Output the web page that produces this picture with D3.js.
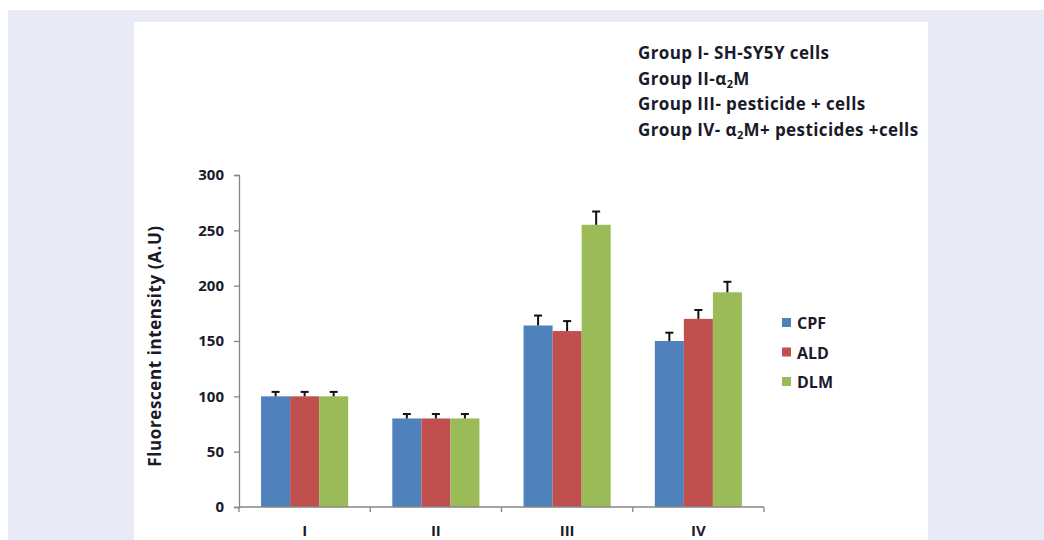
<!DOCTYPE html>
<html><head><meta charset="utf-8">
<script src="https://cdn.jsdelivr.net/npm/d3@7"></script>
<style>html,body{margin:0;padding:0;background:#fff;}svg{display:block;}</style>
</head><body>
<svg id="c" width="1044" height="540"></svg>
<script>
const categories = ["I", "II", "III", "IV"];
const seriesNames = ["CPF", "ALD", "DLM"];
const cpf = [100, 80, 164, 150];
const ald = [100, 80, 159, 170];
const dlm = [100, 80, 255, 194];
const cpfErr = [4, 4, 9, 7.5];
const aldErr = [4, 4, 9, 8];
const dlmErr = [4, 4, 12, 9.5];
const yTicks = [0, 50, 100, 150, 200, 250, 300];
const colors = ["#4f81bd", "#c0504d", "#9bbb59"];
const notes = ["Group I- SH-SY5Y cells", "Group II-α|2|M", "Group III- pesticide + cells", "Group IV- α|2|M+ pesticides +cells"];

const values = [cpf, ald, dlm];
const errs = [cpfErr, aldErr, dlmErr];
const svg = d3.select("#c");
const font = "'Open Sans', 'Noto Sans', sans-serif";
const txt = "#1a1a2a";

svg.append("rect").attr("x", 8).attr("y", 10).attr("width", 1036).attr("height", 530).attr("fill", "#e8ebf6");
svg.append("rect").attr("x", 134).attr("y", 22).attr("width", 794).attr("height", 518).attr("fill", "#ffffff");

const x0 = d3.scaleBand().domain(categories).range([239, 764]).paddingInner(0).paddingOuter(0);
const x1 = d3.scaleBand().domain(seriesNames).range([0, x0.bandwidth()]).paddingInner(0).paddingOuter(0.76);
const y = d3.scaleLinear().domain([0, 300]).range([507, 175]);

// bars
const rows = [];
categories.forEach((c, i) => seriesNames.forEach((s, j) => rows.push({c, s, j, v: values[j][i], e: errs[j][i]})));
const g = svg.append("g");
g.selectAll("rect.bar").data(rows).join("rect")
  .attr("x", d => x0(d.c) + x1(d.s))
  .attr("y", d => y(d.v))
  .attr("width", x1.bandwidth())
  .attr("height", d => y(0) - y(d.v))
  .attr("fill", d => colors[d.j]);

// error bars
const eg = svg.append("g").attr("stroke", "#111").attr("stroke-width", 2);
rows.forEach(d => {
  const cx = x0(d.c) + x1(d.s) + x1.bandwidth() / 2;
  eg.append("line").attr("x1", cx).attr("x2", cx).attr("y1", y(d.v)).attr("y2", y(d.v + d.e));
  eg.append("line").attr("x1", cx - 4).attr("x2", cx + 4).attr("y1", y(d.v + d.e)).attr("y2", y(d.v + d.e));
});

// y axis
const ya = svg.append("g").attr("transform", "translate(239,0)")
  .call(d3.axisLeft(y).tickValues(yTicks).tickSize(5).tickPadding(10));
ya.select(".domain").attr("stroke", "#868686").attr("stroke-width", 1.3);
ya.selectAll(".tick line").attr("stroke", "#868686").attr("stroke-width", 1.3);
ya.selectAll(".tick text").attr("font-family", font).attr("font-weight", "bold").attr("font-size", 15).attr("fill", txt);

// x axis
const xa = svg.append("g").attr("transform", "translate(0,507)")
  .call(d3.axisBottom(x0).tickSize(0).tickPadding(18));
xa.select(".domain").remove();
xa.append("line").attr("x1", 239).attr("x2", 764).attr("y1", 0).attr("y2", 0).attr("stroke", "#868686").attr("stroke-width", 1.3);
const bounds = categories.map(c => x0(c)).concat([x0(categories[categories.length - 1]) + x0.bandwidth()]);
xa.selectAll("line.bt").data(bounds).join("line").attr("class", "bt")
  .attr("x1", d => d).attr("x2", d => d).attr("y1", 0).attr("y2", 5).attr("stroke", "#868686").attr("stroke-width", 1.3);
xa.selectAll(".tick text").attr("font-family", font).attr("font-weight", "bold").attr("font-size", 15).attr("fill", txt);

// y title
svg.append("text").attr("transform", "translate(161,346) rotate(-90)")
  .attr("text-anchor", "middle").attr("font-family", font).attr("font-weight", "bold").attr("font-size", 17)
  .attr("letter-spacing", 0.6).attr("fill", txt)
  .text("Fluorescent intensity (A.U)");

// legend
const lg = svg.append("g");
seriesNames.forEach((s, j) => {
  const ly = 323 + j * 29.5;
  lg.append("rect").attr("x", 782).attr("y", ly - 5).attr("width", 9).attr("height", 9).attr("fill", colors[j]);
  lg.append("text").attr("x", 797).attr("y", ly + 6).attr("font-family", font).attr("font-weight", "bold").attr("font-size", 16).attr("fill", txt).text(s);
});

// notes
notes.forEach((n, i) => {
  const t = svg.append("text").attr("x", 638).attr("y", 59 + i * 25.7)
    .attr("font-family", font).attr("font-weight", "bold").attr("font-size", 17)
    .attr("letter-spacing", 0.4).attr("fill", txt);
  const parts = n.split("|");
  parts.forEach((p, k) => {
    if (k % 2 === 1) {
      t.append("tspan").attr("font-size", 11).attr("dy", 3).text(p);
    } else {
      const ts = t.append("tspan").text(p);
      if (k > 0) ts.attr("dy", -3);
    }
  });
});
</script>
</body></html>
